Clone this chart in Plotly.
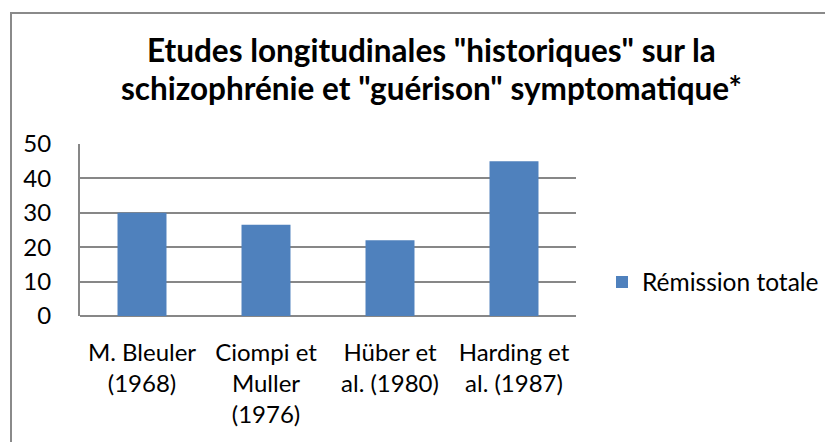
import plotly.graph_objects as go

categories = ["M. Bleuler<br>(1968)", "Ciompi et<br>Muller<br>(1976)", "Hüber et<br>al. (1980)", "Harding et<br>al. (1987)"]
values = [30, 26.5, 22, 45]
series_name = "Rémission totale"
y_ticks = [0, 10, 20, 30, 40, 50]
title_lines = ["Etudes longitudinales \"historiques\" sur la",
               "schizophrénie et \"guérison\" symptomatique*"]

# page body has an 8px margin; work in figure coordinates
OFF = 8
W, H = 833 - OFF, 442 - OFF
L, R, T, B = 80 - OFF, 576 - OFF, 144 - OFF, 316 - OFF

FONT = "Lato"
GRID = "#878787"

fig = go.Figure()
fig.add_trace(go.Bar(x=categories, y=values, name=series_name,
                     marker=dict(color="#4F81BD", line=dict(width=0))))

def px_x(p):
    return (p - OFF - L) / (R - L)

def px_y(p):
    return (B - (p - OFF)) / (B - T)

fig.update_layout(
    width=W, height=H,
    margin=dict(l=L, r=W - R, t=T, b=H - B, pad=0, autoexpand=False),
    paper_bgcolor="white", plot_bgcolor="white",
    font=dict(family=FONT, size=24, color="#000000"),
    bargap=0.605,
    showlegend=True,
    legend=dict(x=px_x(602), y=px_y(282), xanchor="left", yanchor="middle",
                font=dict(family=FONT, size=24.5, color="#000000"),
                bgcolor="rgba(0,0,0,0)", itemwidth=30, tracegroupgap=0),
    xaxis=dict(showgrid=False, showline=False, ticks="", zeroline=False,
               tickfont=dict(family=FONT, size=24), ticklabelstandoff=20),
    yaxis=dict(range=[0, 50], tickvals=y_ticks, showgrid=True, gridcolor=GRID,
               gridwidth=2, zeroline=True, zerolinecolor=GRID, zerolinewidth=2,
               showline=True, linecolor=GRID, linewidth=2, ticks="",
               tickfont=dict(family=FONT, size=24), ticklabelstandoff=22),
)

for line, yc in zip(title_lines, [50, 88]):
    fig.add_annotation(text="<b>" + line + "</b>", xref="paper", yref="paper",
                       x=px_x(431), y=px_y(yc), xanchor="center", yanchor="middle",
                       showarrow=False, font=dict(family=FONT, size=31.5, color="#000000"))

fig.add_shape(type="rect", xref="paper", yref="paper",
              x0=px_x(11), x1=px_x(845), y0=px_y(460), y1=px_y(13),
              line=dict(color="#8a8a8a", width=2), fillcolor="rgba(0,0,0,0)", layer="below")

fig.write_html("out.html")
